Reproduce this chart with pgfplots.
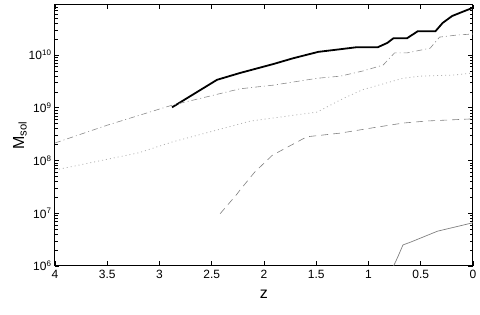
\documentclass[border=0pt]{standalone}
\usepackage{fontspec}
\setmainfont{Liberation Sans}
\usepackage{pgfplots}
\pgfplotsset{compat=1.18}
\begin{document}
\begin{tikzpicture}
\begin{axis}[
  scale only axis,
  width=418pt, height=261pt,
  xmode=linear, ymode=log,
  x dir=reverse,
  xmin=0, xmax=4,
  ymin=1e6, ymax=8.9e10,
  xtick={0,0.5,1,1.5,2,2.5,3,3.5,4},
  xticklabels={0,0.5,1,1.5,2,2.5,3,3.5,4},
  ytick={1e6,1e7,1e8,1e9,1e10},
  yticklabels={10\textsuperscript{6},10\textsuperscript{7},10\textsuperscript{8},10\textsuperscript{9},10\textsuperscript{10}},
  minor ytick={2e6,3e6,4e6,5e6,6e6,7e6,8e6,9e6,
               2e7,3e7,4e7,5e7,6e7,7e7,8e7,9e7,
               2e8,3e8,4e8,5e8,6e8,7e8,8e8,9e8,
               2e9,3e9,4e9,5e9,6e9,7e9,8e9,9e9,
               2e10,3e10,4e10,5e10,6e10,7e10,8e10},
  major tick style={black, line width=0.7pt},
  minor tick style={black, line width=0.6pt},
  major tick length=4.5pt,
  minor tick length=3pt,
  tick align=inside,
  axis line style={black, line width=1pt},
  ticklabel style={font=\fontsize{12}{14}\selectfont},
  xticklabel style={yshift=-1pt},
  xlabel={z},
  ylabel={M\textsubscript{sol}},
  xlabel style={font=\fontsize{16}{18}\selectfont, at={(axis description cs:0.5,0)}, anchor=center, yshift=-28pt},
  ylabel style={font=\fontsize{16}{18}\selectfont, at={(axis description cs:0,0.5)}, anchor=center, yshift=35pt},
]
% thick black
\addplot[black, line width=1.8pt] coordinates {
(2.88,1.02e9) (2.45,3.39e9) (2.23,4.57e9) (1.91,6.76e9) (1.72,8.71e9)
(1.48,1.15e10) (1.27,1.29e10) (1.11,1.41e10) (0.91,1.41e10) (0.82,1.70e10)
(0.76,2.09e10) (0.63,2.09e10) (0.53,2.82e10) (0.36,2.82e10) (0.29,4.07e10)
(0.20,5.50e10) (0.10,6.61e10) (0.01,7.76e10) (0.0,7.9e10)
};
% dash-dot gray
\addplot[gray!90, line width=0.6pt, dash pattern=on 6pt off 3pt on 1pt off 3pt] coordinates {
(4.0,2.15e8) (3.5,4.68e8) (2.88,1.12e9) (2.23,2.29e9) (1.91,2.69e9)
(1.49,3.63e9) (1.27,3.98e9) (1.05,5.01e9) (0.86,6.46e9) (0.75,1.10e10)
(0.63,1.10e10) (0.41,1.35e10) (0.32,2.19e10) (0.15,2.40e10) (0.0,2.51e10)
};
% dotted light gray
\addplot[gray!60, line width=0.8pt, dash pattern=on 1pt off 3pt] coordinates {
(4.0,6.6e7) (3.2,1.4e8) (2.88,2.24e8) (2.13,5.6e8) (1.49,8.3e8) (1.27,1.41e9)
(1.06,2.19e9) (0.67,3.63e9) (0.51,3.98e9) (0.19,4.17e9) (0.0,4.57e9)
};
% dashed gray
\addplot[gray, line width=0.6pt, dash pattern=on 7pt off 5pt] coordinates {
(2.42,9.8e6) (2.26,2.29e7) (2.23,2.75e7) (2.09,6.0e7) (1.92,1.26e8) (1.59,2.82e8)
(1.27,3.31e8) (0.96,4.17e8) (0.67,5.13e8) (0.44,5.62e8) (0.0,6.17e8)
};
% thin gray solid
\addplot[gray, line width=0.7pt] coordinates {
(0.765,9.5e5) (0.72,1.48e6) (0.67,2.51e6) (0.60,2.82e6) (0.34,4.57e6) (0.0,6.61e6)
};
\end{axis}
\path[use as bounding box] (-55pt,-49pt) rectangle (425pt,266pt);
\end{tikzpicture}
\end{document}
